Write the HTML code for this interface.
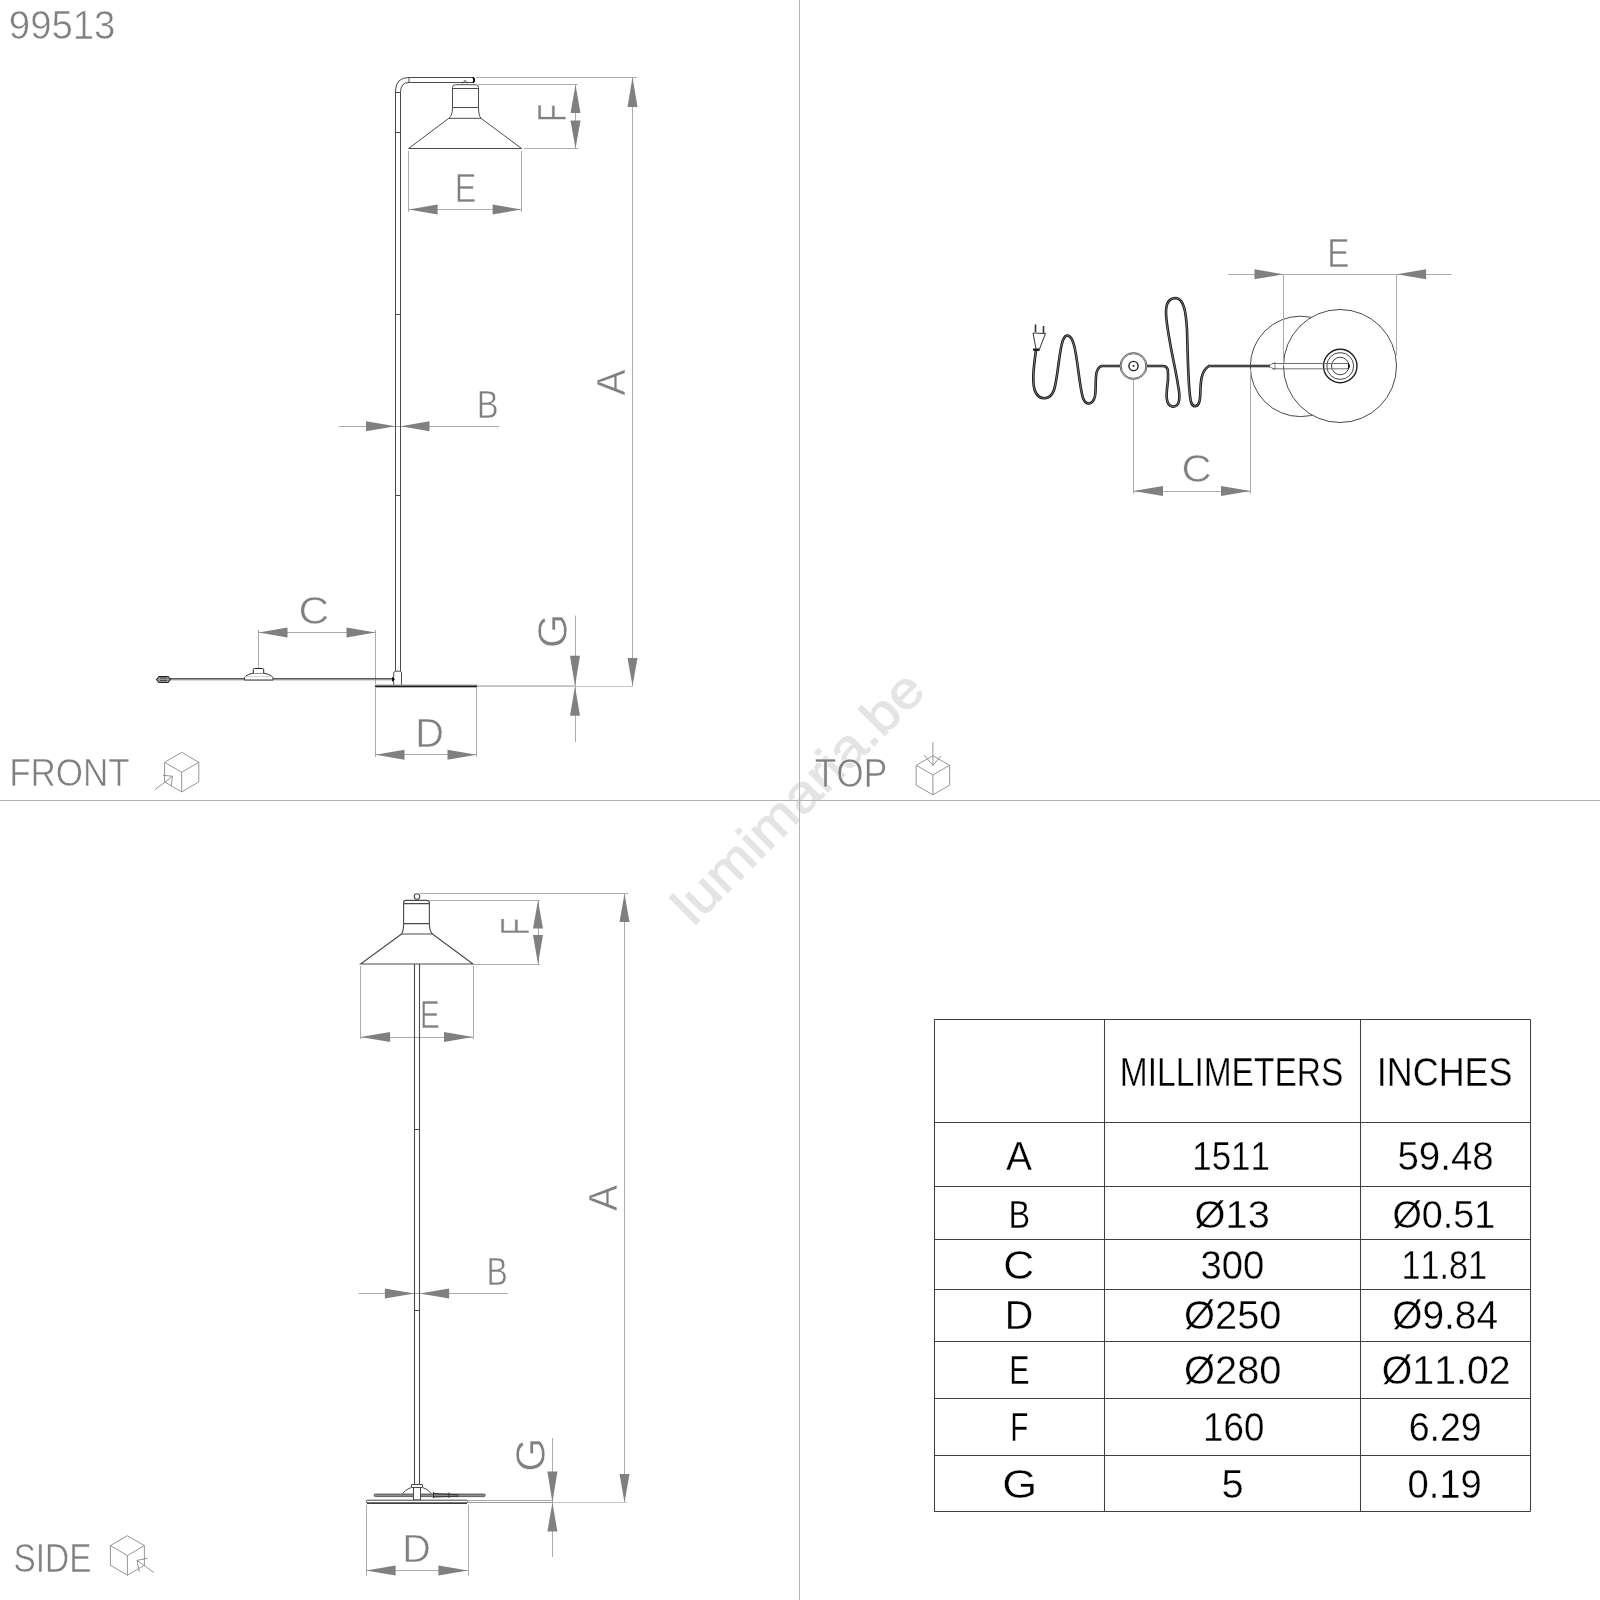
<!DOCTYPE html>
<html><head><meta charset="utf-8"><style>
html,body{margin:0;padding:0;background:#fff;}
svg{display:block;}
text{font-family:"Liberation Sans",sans-serif;font-kerning:none;stroke:#fff;stroke-width:0.6px;}
svg{filter:grayscale(100%);}
</style></head><body>
<svg width="1600" height="1600" viewBox="0 0 1600 1600">
<rect width="1600" height="1600" fill="#fff"/>
<text transform="translate(693.2,927) rotate(-45) scale(1.114,1)" font-size="52" fill="#e4e4e4" style="stroke:#e4e4e4;stroke-width:1.0px">lumimaria.be</text>
<line x1="799.5" y1="0" x2="799.5" y2="1600" stroke="#b3b3b3" stroke-width="1"/>
<line x1="0" y1="800.5" x2="1600" y2="800.5" stroke="#b3b3b3" stroke-width="1"/>
<text transform="translate(8.80,39.30) scale(0.9261,1)" font-size="41.43" fill="#7f7f7f">99513</text>
<text transform="translate(9.13,786.00) scale(0.8847,1)" font-size="39.61" fill="#7f7f7f">FRONT</text>
<text transform="translate(814.71,786.50) scale(0.8817,1)" font-size="39.97" fill="#7f7f7f">TOP</text>
<text transform="translate(13.48,1571.90) scale(0.8163,1)" font-size="40.92" fill="#7f7f7f">SIDE</text>
<line x1="408.5" y1="151" x2="408.5" y2="212" stroke="#acacac" stroke-width="1"/>
<line x1="521.5" y1="151" x2="521.5" y2="212" stroke="#acacac" stroke-width="1"/>
<line x1="408.6" y1="209.5" x2="521.6" y2="209.5" stroke="#acacac" stroke-width="1"/>
<polygon points="408.60,209.50 437.60,204.50 437.60,214.50" fill="#808080"/>
<polygon points="521.60,209.50 492.60,204.50 492.60,214.50" fill="#808080"/>
<text transform="translate(454.85,202.00) scale(0.7934,1)" font-size="40.70" fill="#7f7f7f">E</text>
<line x1="478.5" y1="84.5" x2="578" y2="84.5" stroke="#acacac" stroke-width="1"/>
<line x1="524" y1="148.5" x2="578" y2="148.5" stroke="#acacac" stroke-width="1"/>
<line x1="575.5" y1="84.5" x2="575.5" y2="148.5" stroke="#acacac" stroke-width="1"/>
<polygon points="575.50,85.00 570.50,113.00 580.50,113.00" fill="#808080"/>
<polygon points="575.50,148.50 570.50,120.50 580.50,120.50" fill="#808080"/>
<text transform="translate(566.00,121.93) rotate(-90) scale(0.7289,1)" font-size="40.70" fill="#7f7f7f">F</text>
<line x1="476" y1="77.5" x2="637" y2="77.5" stroke="#acacac" stroke-width="1"/>
<line x1="632.5" y1="77" x2="632.5" y2="686" stroke="#acacac" stroke-width="1"/>
<polygon points="632.50,77.00 627.50,107.00 637.50,107.00" fill="#808080"/>
<polygon points="632.50,686.00 627.50,658.00 637.50,658.00" fill="#808080"/>
<text transform="translate(625.00,395.58) rotate(-90) scale(0.9810,1)" font-size="39.97" fill="#7f7f7f">A</text>
<line x1="338.75" y1="426.5" x2="499" y2="426.5" stroke="#acacac" stroke-width="1"/>
<polygon points="395.50,426.25 366.00,421.25 366.00,431.25" fill="#808080"/>
<polygon points="400.50,426.25 429.50,421.25 429.50,431.25" fill="#808080"/>
<text transform="translate(476.80,417.50) scale(0.8378,1)" font-size="39.24" fill="#7f7f7f">B</text>
<line x1="258.5" y1="630" x2="258.5" y2="668" stroke="#acacac" stroke-width="1"/>
<line x1="375.5" y1="630" x2="375.5" y2="684" stroke="#acacac" stroke-width="1"/>
<line x1="258.5" y1="632.5" x2="375.5" y2="632.5" stroke="#acacac" stroke-width="1"/>
<polygon points="258.50,632.50 287.50,627.50 287.50,637.50" fill="#808080"/>
<polygon points="375.50,632.50 346.50,627.50 346.50,637.50" fill="#808080"/>
<text transform="translate(298.44,624.00) scale(1.0823,1)" font-size="39.24" fill="#7f7f7f">C</text>
<line x1="375.5" y1="688" x2="375.5" y2="757" stroke="#acacac" stroke-width="1"/>
<line x1="476.5" y1="688" x2="476.5" y2="757" stroke="#acacac" stroke-width="1"/>
<line x1="375.5" y1="754.5" x2="476.5" y2="754.5" stroke="#acacac" stroke-width="1"/>
<polygon points="375.50,754.80 404.50,749.80 404.50,759.80" fill="#808080"/>
<polygon points="476.50,754.80 447.50,749.80 447.50,759.80" fill="#808080"/>
<text transform="translate(415.25,747.00) scale(0.9749,1)" font-size="40.70" fill="#7f7f7f">D</text>
<line x1="575.5" y1="615.6" x2="575.5" y2="742" stroke="#acacac" stroke-width="1"/>
<line x1="477" y1="686.5" x2="633" y2="686.5" stroke="#c4c4c4" stroke-width="1"/>
<line x1="477" y1="685.5" x2="575" y2="685.5" stroke="#cdcdcd" stroke-width="1"/>
<polygon points="575.00,686.20 570.00,655.70 580.00,655.70" fill="#808080"/>
<polygon points="575.00,686.20 570.00,715.70 580.00,715.70" fill="#808080"/>
<text transform="translate(567.00,648.23) rotate(-90) scale(1.0539,1)" font-size="42.15" fill="#7f7f7f">G</text>
<g fill="none" stroke="#4a4a4a" stroke-width="1">
<path d="M395.5,671 L395.5,91 Q395.5,77.5 409,77.5 L473.5,77.5"/>
<path d="M400.5,671 L400.5,92.5 Q400.5,82.5 409,82.5 L473.5,82.5"/>
<path d="M395.5,92.5 L400.5,92.5 M395.5,132.5 L400.5,132.5 M409,77.5 L409,82.5 M395.5,314.5 L400.5,314.5 M395.5,495.5 L400.5,495.5"/>
</g>
<path d="M473,77.3 Q475.5,80 473,82.7" fill="none" stroke="#000" stroke-width="1.8"/>
<g fill="none" stroke="#4a4a4a" stroke-width="1">
<path d="M462.5,83.4 L465,80.3 L467.5,83.4"/>
<path d="M452.5,107.5 L452.5,87.5 Q452.5,84.7 455.5,84.7 L475.5,84.7 Q478.5,84.7 478.5,87.5 L478.5,107.5"/>
<path d="M452.5,88.5 L478.5,88.5 M452.5,107.5 L478.5,107.5"/>
<path d="M452.5,107.5 Q452.5,115.5 448.8,118.3 L481,118.3 Q478.5,115.5 478.5,107.5"/>
<path d="M448.8,118.3 L408.6,148.5 L521.6,148.5 L481,118.3"/>
<path d="M393.7,685 L393.7,672.5 L395.2,671.2 L400.7,671.2 L401.5,672.5 L401.5,685"/>
</g>
<line x1="375" y1="684.9" x2="477" y2="684.9" stroke="#999" stroke-width="0.8"/>
<rect x="375" y="685.5" width="102" height="1.8" fill="#1a1a1a"/>
<rect x="170" y="678.2" width="224" height="1.2" fill="#333"/>
<rect x="170" y="679.4" width="224" height="0.9" fill="#8a8a8a"/>
<path d="M392.5,677.3 L394.3,679.3 L392.5,681.3 Z" fill="#000" stroke="#000" stroke-width="0.8"/>
<path d="M156.5,679.5 L159,676.5 L168,676.5 L170.4,679.5 L168,682.5 L159,682.5 Z" fill="#9a9a9a" stroke="#222" stroke-width="1.1"/>
<path d="M160,678 L167,678 M160,680.5 L167,680.5" stroke="#333" stroke-width="0.8"/>
<path d="M244.3,680 Q243.5,675 253,673.2 L264,673.2 Q274,675 273.2,680 Z" fill="#fff" stroke="#333" stroke-width="1"/>
<path d="M253.3,673.2 L253.3,669.5 Q253.3,668.5 254.5,668.5 L262.5,668.5 Q263.7,668.5 263.7,669.5 L263.7,673.2" fill="#fff" stroke="#222" stroke-width="1"/>
<path d="M245,676.5 L272,676.5" stroke="#bbb" stroke-width="0.7"/>
<path d="M181.7,752.3 L198.79999999999998,762.3 L198.79999999999998,781.9 L181.7,791.9 L164.6,781.9 L164.6,762.3 Z M164.6,762.3 L181.7,772.3 L198.79999999999998,762.3 M181.7,772.3 L181.7,791.9" fill="none" stroke="#8a8a8a" stroke-width="0.9"/>
<path d="M154.9,789.6 L172.5,776.3 L162.9,775.2 M172.5,776.3 L171.2,786.2" fill="none" stroke="#8a8a8a" stroke-width="0.9"/>
<path d="M932.9,755.7 L949.65,765.3000000000001 L949.65,785.2 L932.9,794.8000000000001 L916.15,785.2 L916.15,765.3000000000001 Z M916.15,765.3000000000001 L932.9,774.9000000000001 L949.65,765.3000000000001 M932.9,774.9000000000001 L932.9,794.8000000000001" fill="none" stroke="#8a8a8a" stroke-width="0.9"/>
<path d="M932.9,742.1 L932.9,765.5 M932.9,765.5 L924.2,755.1 M932.9,765.5 L941,756.1" fill="none" stroke="#8a8a8a" stroke-width="0.9"/>
<path d="M127.4,1535.7 L144.4,1545.6000000000001 L144.4,1565.3000000000002 L127.4,1575.2 L110.4,1565.3000000000002 L110.4,1545.6000000000001 Z M110.4,1545.6000000000001 L127.4,1555.5 L144.4,1545.6000000000001 M127.4,1555.5 L127.4,1575.2" fill="none" stroke="#8a8a8a" stroke-width="0.9"/>
<path d="M154,1572.6 L137,1560.4 M137,1560.4 L147.5,1558.3 M137,1560.4 L139.3,1571.7" fill="none" stroke="#8a8a8a" stroke-width="0.9"/>
<line x1="1228" y1="274.5" x2="1451.5" y2="274.5" stroke="#acacac" stroke-width="1"/>
<polygon points="1283.50,274.30 1254.50,269.30 1254.50,279.30" fill="#808080"/>
<polygon points="1396.60,274.30 1426.10,269.30 1426.10,279.30" fill="#808080"/>
<line x1="1283.5" y1="274.3" x2="1283.5" y2="366" stroke="#acacac" stroke-width="1"/>
<line x1="1396.5" y1="274.3" x2="1396.5" y2="355" stroke="#acacac" stroke-width="1"/>
<text transform="translate(1327.28,266.50) scale(0.8189,1)" font-size="40.55" fill="#7f7f7f">E</text>
<circle cx="1300.5" cy="366.4" r="50.2" fill="none" stroke="#4a4a4a" stroke-width="1"/>
<circle cx="1340" cy="366" r="56.5" fill="#fff" stroke="#4a4a4a" stroke-width="1"/>
<line x1="1283.5" y1="274.3" x2="1283.5" y2="366" stroke="#acacac" stroke-width="1"/>
<line x1="1250.5" y1="369" x2="1250.5" y2="494" stroke="#acacac" stroke-width="1"/>
<line x1="1133.5" y1="380" x2="1133.5" y2="494" stroke="#acacac" stroke-width="1"/>
<line x1="1133.5" y1="491.5" x2="1250.5" y2="491.5" stroke="#acacac" stroke-width="1"/>
<polygon points="1133.50,491.00 1163.00,486.00 1163.00,496.00" fill="#808080"/>
<polygon points="1250.50,491.00 1221.00,486.00 1221.00,496.00" fill="#808080"/>
<text transform="translate(1181.48,481.60) scale(1.0988,1)" font-size="37.94" fill="#7f7f7f">C</text>
<circle cx="1340.25" cy="366" r="16.75" fill="none" stroke="#202020" stroke-width="1.4"/>
<circle cx="1340.25" cy="366" r="13.4" fill="none" stroke="#303030" stroke-width="0.9"/>
<circle cx="1340.25" cy="366" r="8.75" fill="none" stroke="#303030" stroke-width="0.9"/>
<path d="M1272,363.5 L1349,363.5 M1272,368.8 L1349,368.8" stroke="#707070" stroke-width="1"/>
<path d="M1348,363.5 Q1350.5,366 1348,368.8" fill="#111" stroke="#111" stroke-width="1.2"/>
<path d="M1268,366 L1275,362.5 L1275,369.5 Z" fill="none" stroke="#666" stroke-width="0.8"/>
<path d="M1036,350 C1034,365 1031,385 1036,393 C1040,400 1050,401 1054,390 C1058,378 1059,350 1063,340 C1066,333 1071,334 1074,345 C1078,360 1079,385 1083,398 C1086,406 1093,405 1095,396 C1097,385 1093,368 1102,366 L1120,366 M1147,366 L1163,366 C1169,366 1168,372 1168,380 C1167,390 1164,404 1172,406.5 C1181,408 1180,395 1178,385 C1176,370 1166,330 1166,312 C1166,298 1174,298 1176,298 C1184,299 1186,312 1187,330 C1188,360 1188,390 1191,402 C1193,408 1199,408 1200,398 C1201,388 1199,372 1209,366 L1270,366" fill="none" stroke="#111" stroke-width="2.6"/>
<path d="M1036,350 C1034,365 1031,385 1036,393 C1040,400 1050,401 1054,390 C1058,378 1059,350 1063,340 C1066,333 1071,334 1074,345 C1078,360 1079,385 1083,398 C1086,406 1093,405 1095,396 C1097,385 1093,368 1102,366 L1120,366 M1147,366 L1163,366 C1169,366 1168,372 1168,380 C1167,390 1164,404 1172,406.5 C1181,408 1180,395 1178,385 C1176,370 1166,330 1166,312 C1166,298 1174,298 1176,298 C1184,299 1186,312 1187,330 C1188,360 1188,390 1191,402 C1193,408 1199,408 1200,398 C1201,388 1199,372 1209,366 L1270,366" fill="none" stroke="#fff" stroke-width="0.8" opacity="0.55"/>
<circle cx="1133.5" cy="366" r="13.5" fill="#fff" stroke="#555" stroke-width="0.9"/>
<circle cx="1133.5" cy="366" r="12.3" fill="none" stroke="#555" stroke-width="0.9"/>
<circle cx="1133.5" cy="366" r="4.6" fill="none" stroke="#222" stroke-width="1.4"/>
<circle cx="1133.5" cy="366" r="1" fill="#222"/>
<line x1="1133.5" y1="380" x2="1133.5" y2="494" stroke="#acacac" stroke-width="1"/>
<path d="M1033,333 L1045.5,333.5 L1039.5,349 L1036,349 Z" fill="none" stroke="#333" stroke-width="1"/>
<path d="M1035.5,324.5 L1035.5,332 M1043.5,326 L1043.5,333" stroke="#333" stroke-width="1.6"/>
<path d="M1033,349.5 L1039.5,350" stroke="#111" stroke-width="2"/>
<line x1="420" y1="893.5" x2="628" y2="893.5" stroke="#acacac" stroke-width="1"/>
<line x1="624.5" y1="893.6" x2="624.5" y2="1502.6" stroke="#acacac" stroke-width="1"/>
<polygon points="624.50,893.60 619.50,922.10 629.50,922.10" fill="#808080"/>
<polygon points="624.50,1502.60 619.50,1474.10 629.50,1474.10" fill="#808080"/>
<text transform="translate(616.60,1211.08) rotate(-90) scale(0.9774,1)" font-size="40.12" fill="#7f7f7f">A</text>
<line x1="430" y1="900.5" x2="540" y2="900.5" stroke="#acacac" stroke-width="1"/>
<line x1="474" y1="964.5" x2="540" y2="964.5" stroke="#acacac" stroke-width="1"/>
<line x1="538.5" y1="900.4" x2="538.5" y2="964" stroke="#acacac" stroke-width="1"/>
<polygon points="538.00,900.40 533.00,928.40 543.00,928.40" fill="#808080"/>
<polygon points="538.00,964.00 533.00,935.00 543.00,935.00" fill="#808080"/>
<text transform="translate(529.00,935.35) rotate(-90) scale(0.7192,1)" font-size="39.83" fill="#7f7f7f">F</text>
<line x1="360.5" y1="966" x2="360.5" y2="1039" stroke="#acacac" stroke-width="1"/>
<line x1="473.5" y1="966" x2="473.5" y2="1039" stroke="#acacac" stroke-width="1"/>
<line x1="360.6" y1="1037.5" x2="473" y2="1037.5" stroke="#acacac" stroke-width="1"/>
<polygon points="360.60,1037.00 390.10,1032.00 390.10,1042.00" fill="#808080"/>
<polygon points="473.00,1037.00 444.00,1032.00 444.00,1042.00" fill="#808080"/>
<text transform="translate(419.73,1028.30) scale(0.7579,1)" font-size="39.68" fill="#7f7f7f">E</text>
<line x1="358.4" y1="1293.5" x2="508" y2="1293.5" stroke="#acacac" stroke-width="1"/>
<polygon points="414.40,1293.40 384.90,1288.40 384.90,1298.40" fill="#808080"/>
<polygon points="419.60,1293.40 449.10,1288.40 449.10,1298.40" fill="#808080"/>
<text transform="translate(486.38,1285.00) scale(0.8139,1)" font-size="39.24" fill="#7f7f7f">B</text>
<line x1="552.5" y1="1438" x2="552.5" y2="1557" stroke="#acacac" stroke-width="1"/>
<line x1="552.4" y1="1502.5" x2="627" y2="1502.5" stroke="#c4c4c4" stroke-width="1"/>
<line x1="468" y1="1502.5" x2="552.4" y2="1502.5" stroke="#9a9a9a" stroke-width="1"/>
<line x1="468" y1="1500.5" x2="552.4" y2="1500.5" stroke="#a8a8a8" stroke-width="1"/>
<polygon points="552.40,1502.60 547.40,1471.60 557.40,1471.60" fill="#808080"/>
<polygon points="552.40,1502.60 547.40,1531.60 557.40,1531.60" fill="#808080"/>
<text transform="translate(545.00,1471.80) rotate(-90) scale(1.0393,1)" font-size="42.15" fill="#7f7f7f">G</text>
<line x1="366.5" y1="1505" x2="366.5" y2="1576" stroke="#acacac" stroke-width="1"/>
<line x1="468.5" y1="1505" x2="468.5" y2="1576" stroke="#acacac" stroke-width="1"/>
<line x1="366" y1="1570.5" x2="468" y2="1570.5" stroke="#acacac" stroke-width="1"/>
<polygon points="366.00,1570.40 395.60,1565.40 395.60,1575.40" fill="#808080"/>
<polygon points="468.00,1570.40 438.40,1565.40 438.40,1575.40" fill="#808080"/>
<text transform="translate(402.36,1561.60) scale(1.0218,1)" font-size="38.66" fill="#7f7f7f">D</text>
<g fill="none" stroke="#4a4a4a" stroke-width="1.1">
<circle cx="417" cy="896.5" r="2.8"/>
<path d="M403.6,923.6 L403.6,903 Q403.6,900.4 406,900.4 L427,900.4 Q429.4,900.4 429.4,903 L429.4,923.6"/>
<path d="M403.6,903.6 L429.4,903.6 M403.6,923.6 L429.4,923.6"/>
<path d="M403.6,923.6 Q403.6,931 401.6,934 L432.4,934 Q429.4,931 429.4,923.6"/>
<path d="M401.6,934 L360.6,964 L473,964 L432.4,934"/>
<path d="M414.5,964 L414.5,1484.5 M419.5,964 L419.5,1484.5 M414.5,1129.5 L419.5,1129.5 M414.5,1310.5 L419.5,1310.5"/>
</g>
<path d="M402.3,1495 Q404,1490 411.5,1487.5 L422.5,1487.5 Q430,1490 431.7,1495" fill="#fff" stroke="#4a4a4a" stroke-width="1"/>
<rect x="374.2" y="1494" width="111" height="2.6" rx="1.3" fill="#8c8c8c" stroke="#444" stroke-width="0.8"/>
<path d="M433.5,1492 L433.5,1498 M434,1493.5 L458.5,1494.8 M434,1497 L458.5,1496.2 M449,1492.5 L449,1497.8" fill="none" stroke="#333" stroke-width="1"/>
<path d="M411.5,1487 L411.5,1484.5 L422.5,1484.5 L422.5,1487" fill="#fff" stroke="#4a4a4a" stroke-width="1"/>
<rect x="413.5" y="1487.5" width="7" height="12.5" fill="#fff" stroke="#4a4a4a" stroke-width="1"/>
<rect x="366.3" y="1500.2" width="101.4" height="2.8" rx="1.4" fill="#fff" stroke="#444" stroke-width="1"/>
<line x1="367" y1="1503.2" x2="467" y2="1503.2" stroke="#111" stroke-width="1"/>
<line x1="934.5" y1="1019.4" x2="934.5" y2="1511.5" stroke="#404040" stroke-width="1.05"/>
<line x1="1104.5" y1="1019.4" x2="1104.5" y2="1511.5" stroke="#404040" stroke-width="1.05"/>
<line x1="1360.5" y1="1019.4" x2="1360.5" y2="1511.5" stroke="#404040" stroke-width="1.05"/>
<line x1="1530.5" y1="1019.4" x2="1530.5" y2="1511.5" stroke="#404040" stroke-width="1.05"/>
<line x1="934.2" y1="1019.5" x2="1530.4" y2="1019.5" stroke="#404040" stroke-width="1.05"/>
<line x1="934.2" y1="1122.5" x2="1530.4" y2="1122.5" stroke="#404040" stroke-width="1.05"/>
<line x1="934.2" y1="1186.5" x2="1530.4" y2="1186.5" stroke="#404040" stroke-width="1.05"/>
<line x1="934.2" y1="1239.5" x2="1530.4" y2="1239.5" stroke="#404040" stroke-width="1.05"/>
<line x1="934.2" y1="1289.5" x2="1530.4" y2="1289.5" stroke="#404040" stroke-width="1.05"/>
<line x1="934.2" y1="1341.5" x2="1530.4" y2="1341.5" stroke="#404040" stroke-width="1.05"/>
<line x1="934.2" y1="1398.5" x2="1530.4" y2="1398.5" stroke="#404040" stroke-width="1.05"/>
<line x1="934.2" y1="1455.5" x2="1530.4" y2="1455.5" stroke="#404040" stroke-width="1.05"/>
<line x1="934.2" y1="1511.5" x2="1530.4" y2="1511.5" stroke="#404040" stroke-width="1.05"/>
<text transform="translate(1119.85,1086.00) scale(0.8393,1)" font-size="39.97" fill="#000" style="stroke-width:0.35px">MILLIMETERS</text>
<text transform="translate(1376.68,1086.00) scale(0.9003,1)" font-size="39.97" fill="#000" style="stroke-width:0.35px">INCHES</text>
<text transform="translate(1005.92,1169.60) scale(0.9808,1)" font-size="39.83" fill="#000" style="stroke-width:0.35px">A</text>
<text transform="translate(1192.24,1169.60) scale(0.8778,1)" font-size="39.83" fill="#000" style="stroke-width:0.35px">1511</text>
<text transform="translate(1397.46,1169.60) scale(0.9654,1)" font-size="39.83" fill="#000" style="stroke-width:0.35px">59.48</text>
<text transform="translate(1008.45,1227.60) scale(0.8144,1)" font-size="39.68" fill="#000" style="stroke-width:0.35px">B</text>
<text transform="translate(1194.62,1227.60) scale(1.0016,1)" font-size="39.68" fill="#000" style="stroke-width:0.35px">Ø13</text>
<text transform="translate(1392.39,1227.60) scale(0.9505,1)" font-size="39.68" fill="#000" style="stroke-width:0.35px">Ø0.51</text>
<text transform="translate(1003.13,1278.60) scale(1.0745,1)" font-size="39.83" fill="#000" style="stroke-width:0.35px">C</text>
<text transform="translate(1200.54,1278.60) scale(0.9609,1)" font-size="39.83" fill="#000" style="stroke-width:0.35px">300</text>
<text transform="translate(1401.49,1278.60) scale(0.8597,1)" font-size="39.83" fill="#000" style="stroke-width:0.35px">11.81</text>
<text transform="translate(1004.86,1329.40) scale(0.9813,1)" font-size="40.26" fill="#000" style="stroke-width:0.35px">D</text>
<text transform="translate(1184.02,1329.40) scale(0.9893,1)" font-size="40.26" fill="#000" style="stroke-width:0.35px">Ø250</text>
<text transform="translate(1392.25,1329.40) scale(0.9645,1)" font-size="40.26" fill="#000" style="stroke-width:0.35px">Ø9.84</text>
<text transform="translate(1009.30,1383.80) scale(0.7534,1)" font-size="40.41" fill="#000" style="stroke-width:0.35px">E</text>
<text transform="translate(1184.02,1383.80) scale(0.9857,1)" font-size="40.41" fill="#000" style="stroke-width:0.35px">Ø280</text>
<text transform="translate(1381.74,1383.80) scale(0.9720,1)" font-size="40.41" fill="#000" style="stroke-width:0.35px">Ø11.02</text>
<text transform="translate(1010.32,1440.70) scale(0.7395,1)" font-size="40.12" fill="#000" style="stroke-width:0.35px">F</text>
<text transform="translate(1203.10,1440.70) scale(0.9148,1)" font-size="40.12" fill="#000" style="stroke-width:0.35px">160</text>
<text transform="translate(1408.70,1440.70) scale(0.9347,1)" font-size="40.12" fill="#000" style="stroke-width:0.35px">6.29</text>
<text transform="translate(1002.14,1497.80) scale(1.1207,1)" font-size="40.12" fill="#000" style="stroke-width:0.35px">G</text>
<text transform="translate(1221.40,1497.80) scale(0.9937,1)" font-size="40.12" fill="#000" style="stroke-width:0.35px">5</text>
<text transform="translate(1407.41,1497.80) scale(0.9516,1)" font-size="40.12" fill="#000" style="stroke-width:0.35px">0.19</text>
</svg>
</body></html>
